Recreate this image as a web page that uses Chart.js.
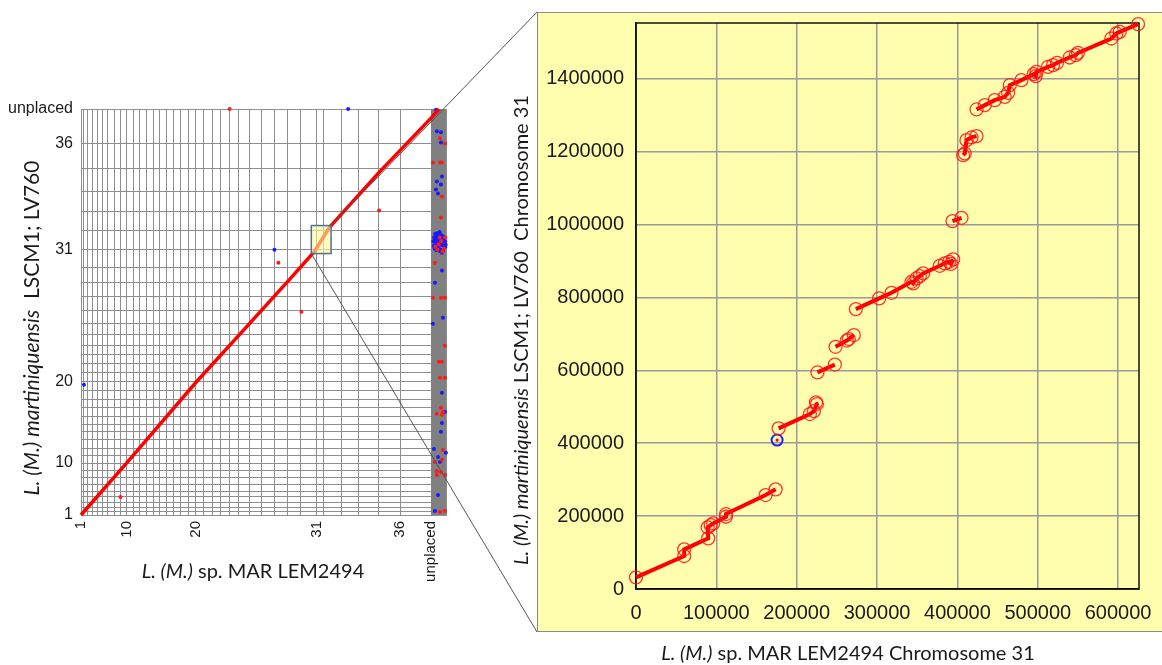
<!DOCTYPE html>
<html>
<head>
<meta charset="utf-8">
<script src="https://cdn.jsdelivr.net/npm/chart.js@4.4.1/dist/chart.umd.min.js"></script>
<style>
  html, body { margin: 0; padding: 0; background: #fff; }
  #page { position: relative; width: 1162px; height: 665px; overflow: hidden; font-family: Lato, "Liberation Sans", sans-serif; }
  #leftCanvas { position: absolute; left: 0; top: 0; }
  #panel { position: absolute; left: 537px; top: 12px; width: 640px; height: 620px; background: #fffdae; border: 1px solid #8a8a8a; box-sizing: border-box; }
  #rightCanvas { position: absolute; left: 537px; top: 12px; }
  .title { position: absolute; font-size: 20px; color: #1a1a1a; white-space: nowrap; transform: translate(-50%, -50%); }
  .title.rot { transform: translate(-50%, -50%) rotate(-90deg); }
  #links { position: absolute; left: 0; top: 0; pointer-events: none; }
</style>
</head>
<body>
<div id="page">
  <canvas id="leftCanvas" width="470" height="600"></canvas>
  <div id="panel"></div>
  <canvas id="rightCanvas" width="625" height="621"></canvas>
  <svg id="links" width="1162" height="665"></svg>

  <div class="title rot" style="left:30px; top:328px; font-size:21px;"><i>L. (M.) martiniquensis</i>&nbsp; LSCM1; LV760</div>
  <div class="title" style="left:253px; top:570px;"><i>L. (M.)</i> sp. MAR LEM2494</div>
  <div class="title rot" style="left:520px; top:330px;"><i>L. (M.) martiniquensis</i> LSCM1; LV760&nbsp; Chromosome 31</div>
  <div class="title" style="left:848px; top:652px;"><i>L. (M.)</i> sp. MAR LEM2494 Chromosome 31</div>
</div>

<script>
// ---------- Genome-wide dot plot (left) ----------
// Chromosome lengths (Mb) of the two assemblies, chromosomes 1..36
const xChrSizes = [0.27, 0.36, 0.38, 0.46, 0.46, 0.51, 0.59, 0.58, 0.56,
                   0.59, 0.55, 0.65, 0.62, 0.59, 0.60, 0.67, 0.65, 0.70, 0.66,
                   0.76, 0.79, 0.74, 0.79, 0.86, 0.93, 1.12, 1.16, 1.19, 1.24, 1.43,
                   0.63, 1.64, 1.55, 1.82, 2.00, 2.82];
const xUnplacedSize = 1.36;
const yChrSizes = [0.27, 0.36, 0.38, 0.47, 0.47, 0.52, 0.60, 0.59, 0.57, 0.62,
                   0.58, 0.68, 0.65, 0.62, 0.63, 0.71, 0.68, 0.74, 0.70, 0.74,
                   0.77, 0.72, 0.77, 0.84, 0.91, 1.09, 1.13, 1.16, 1.21, 1.40,
                   1.55, 1.60, 1.65, 1.80, 2.05, 2.83];
const labelledChromosomes = [1, 10, 20, 31, 36];
const unplacedLabel = 'unplaced';

// Syntenic diagonal (concatenated genome positions, Mb)
const diagonalX = [0, 4.17, 10.45, 15.36, 19.0, 21.27, 22.64, 27.18, 32.0, 32.64];
const diagonalY = [0, 4.24, 10.77, 15.58, 19.17, 21.45, 23.4, 27.9, 32.4, 33.06];

// Off-diagonal hits
const offRedX = [13.55, 18.0, 27.18, 20.1, 3.6];
const offRedY = [33.06, 20.55, 24.8, 16.56, 1.47];
const offBlueX = [24.36, 17.64, 0.27];
const offBlueY = [33.06, 21.6, 10.6];

// Hits against unplaced contigs
const unplacedBlue = [
  [32.36, 33.0], [32.45, 31.24], [32.82, 31.16], [32.82, 30.34], [32.91, 27.57], [32.45, 27.16],
  [32.82, 26.92], [32.36, 26.51], [32.55, 26.18], [32.91, 19.9], [32.27, 18.92], [33.0, 16.07],
  [32.09, 15.58], [32.91, 9.95], [33.18, 8.4], [32.91, 7.5], [32.82, 6.77], [32.18, 5.38],
  [33.27, 5.06], [32.55, 4.73], [32.73, 4.32], [32.55, 1.63], [32.27, 0.33],
  [32.12, 22.3], [32.2, 22.6], [32.3, 22.9], [32.4, 22.7], [32.5, 22.95], [32.6, 22.8],
  [32.7, 23.05], [32.8, 22.85], [32.9, 22.6], [33.0, 22.7], [33.1, 22.5], [33.2, 22.3],
  [32.15, 21.9], [32.3, 22.1], [32.45, 22.35], [32.55, 22.15], [32.65, 22.4], [32.75, 22.2],
  [32.85, 22.0], [32.95, 22.25], [33.05, 21.95], [33.2, 21.8], [32.25, 21.7], [32.4, 21.55],
  [32.6, 21.75], [32.8, 21.6], [33.0, 21.5], [32.9, 21.35], [32.5, 21.95], [32.7, 21.5],
  [33.25, 22.0], [32.35, 22.5]
];
const unplacedRed = [
  [32.73, 30.67], [33.18, 30.26], [32.09, 28.71], [32.73, 28.71], [32.91, 28.71], [32.91, 25.94],
  [32.82, 24.23], [32.27, 20.55], [32.09, 17.7], [32.82, 17.7], [33.18, 17.7], [33.18, 13.78],
  [32.64, 12.48], [32.91, 12.48], [32.73, 11.17], [33.18, 11.17], [32.82, 8.73], [32.45, 8.24],
  [32.91, 8.16], [33.0, 8.4], [33.0, 5.3], [32.91, 4.49], [32.27, 4.32], [32.45, 3.59],
  [32.82, 3.51], [33.18, 3.26], [32.45, 3.26], [32.73, 0.24], [33.18, 0.33],
  [32.6, 22.05], [32.85, 22.3], [32.5, 21.6], [33.1, 21.7], [32.3, 21.85], [32.95, 21.45],
  [33.2, 22.6], [32.7, 22.6]
];

// Region enlarged on the right (Mb)
const zoomBoxX = [21.0, 22.8];
const zoomBoxY = [21.29, 23.57];

// ---------- Chromosome 31 detail (right) ----------
// Syntenic blocks, [LEM2494 position, LSCM1 position] in bp
const block1 = [[0, 32000], [60000, 90500], [60000, 108900], [89900, 139000], [89200, 169000],
                [93000, 175000], [96100, 180000], [112000, 198300], [112000, 205700],
                [161300, 257800], [173800, 273500]];
const block2 = [[177500, 440800], [216400, 480000], [221400, 488000], [225100, 507500], [224000, 512000]];
const block3 = [[225800, 594200], [247500, 615800]];
const block4 = [[248300, 664600], [262400, 681700], [264900, 685800], [271100, 696800]];
const block5 = [[273600, 768000], [302600, 797400], [318000, 812700], [342900, 842900],
                [344900, 838500], [349100, 852200], [353200, 858600], [357300, 866000],
                [378100, 886800], [384300, 893400], [389700, 897800], [392000, 892000], [394700, 904300]];
const block6 = [[393900, 1009400], [405100, 1018500]];
const block7 = [[407100, 1190500], [409200, 1195100], [411300, 1231600], [417600, 1239000], [423800, 1242600]];
const block8 = [[423800, 1315800], [434100, 1327600], [446500, 1341300], [458900, 1350400],
                [463100, 1361400], [465200, 1382500], [479700, 1396200], [495000, 1412600],
                [497500, 1407200], [498400, 1419000], [512800, 1432700], [519000, 1437300],
                [524000, 1443700], [539800, 1458400], [547300, 1464800], [550100, 1471100],
                [591600, 1510500], [597800, 1524200], [602000, 1528700], [624800, 1549800]];
const invertedHit = [[175600, 408700]];
const chr31LengthX = 626000;
const chr31LengthY = 1553000;
const xStep = 100000;
const yStep = 200000;

// ---------- helpers ----------
function boundaries(sizes) {
  const out = [0];
  sizes.forEach(s => out.push(+(out[out.length - 1] + s).toFixed(4)));
  return out;
}
const xBounds = boundaries(xChrSizes.concat([xUnplacedSize]));   // 38 values
const yBounds = boundaries(yChrSizes);                          // 37 values (top = unplaced)
const xTotal = xBounds[xBounds.length - 1];
const yTotal = yBounds[yBounds.length - 1];
const unplacedStart = xBounds[xChrSizes.length];

function boundaryLabel(i, n) {
  if (i === n) return unplacedLabel;
  return labelledChromosomes.includes(i + 1) ? String(i + 1) : '';
}
const toXY = arr => arr.map(([x, y]) => ({ x, y }));
const zip = (xs, ys) => xs.map((x, i) => ({ x, y: ys[i] }));

Chart.defaults.font.family = '"Liberation Sans", Arial, sans-serif';
Chart.defaults.color = '#1a1a1a';

// Gray band for unplaced contigs + the enlarged-region box
const dotPlotDecor = {
  id: 'dotPlotDecor',
  beforeDatasetsDraw(chart) {
    const { ctx, chartArea, scales } = chart;
    const x0 = scales.x.getPixelForValue(unplacedStart);
    const x1 = scales.x.getPixelForValue(xTotal);
    ctx.save();
    ctx.fillStyle = '#808080';
    ctx.fillRect(x0, chartArea.top, x1 - x0, chartArea.bottom - chartArea.top);
    ctx.restore();
  },
  afterDatasetsDraw(chart) {
    const { ctx, scales } = chart;
    const l = scales.x.getPixelForValue(zoomBoxX[0]);
    const r = scales.x.getPixelForValue(zoomBoxX[1]);
    const t = scales.y.getPixelForValue(zoomBoxY[1]);
    const b = scales.y.getPixelForValue(zoomBoxY[0]);
    ctx.save();
    ctx.fillStyle = 'rgba(255, 250, 150, 0.6)';
    ctx.fillRect(l, t, r - l, b - t);
    ctx.strokeStyle = '#4f6e96';
    ctx.lineWidth = 1.5;
    ctx.strokeRect(l, t, r - l, b - t);
    ctx.restore();
  }
};

const dotStyle = (color) => ({
  type: 'scatter', pointRadius: 2, pointHoverRadius: 2,
  backgroundColor: color, borderColor: color, borderWidth: 0, clip: false
});

const leftChart = new Chart(document.getElementById('leftCanvas'), {
  data: {
    datasets: [
      { type: 'line', data: zip(diagonalX, diagonalY), borderColor: '#ff0000', borderWidth: 3.5,
        pointRadius: 0, tension: 0, clip: false },
      Object.assign({ data: zip(offRedX, offRedY) }, dotStyle('#ff1a1a')),
      Object.assign({ data: zip(offBlueX, offBlueY) }, dotStyle('#1a1aff')),
      Object.assign({ data: toXY(unplacedRed) }, dotStyle('#ff1a1a')),
      Object.assign({ data: toXY(unplacedBlue) }, dotStyle('#1a1aff'))
    ]
  },
  options: {
    responsive: false, animation: false,
    layout: { padding: { left: 0, top: 109, right: 22, bottom: 0 } },
    plugins: { legend: { display: false }, tooltip: { enabled: false } },
    scales: {
      x: {
        type: 'linear', min: 0, max: xTotal,
        afterBuildTicks: s => { s.ticks = xBounds.map(v => ({ value: v })); },
        afterFit: s => { s.height = 85; },
        grid: { color: '#8e8e8e', lineWidth: 1, drawTicks: false },
        border: { color: '#8e8e8e' },
        ticks: {
          autoSkip: false, minRotation: 90, maxRotation: 90, padding: 6,
          font: { size: 15 },
          callback: (v, i) => boundaryLabel(i, xChrSizes.length)
        }
      },
      y: {
        type: 'linear', min: 0, max: yTotal,
        afterBuildTicks: s => { s.ticks = yBounds.map(v => ({ value: v })); },
        afterFit: s => { s.width = 81; },
        grid: { color: '#8e8e8e', lineWidth: 1, drawTicks: false },
        border: { color: '#8e8e8e' },
        ticks: {
          autoSkip: false, padding: 8,
          font: { size: 16 },
          callback: (v, i) => boundaryLabel(i, yChrSizes.length)
        }
      }
    }
  },
  plugins: [dotPlotDecor]
});

// ---------- right chart ----------
const plotFrame = {
  id: 'plotFrame',
  beforeDatasetsDraw(chart) {
    const { ctx, chartArea: a } = chart;
    ctx.save();
    ctx.strokeStyle = '#111';
    ctx.lineWidth = 1.5;
    ctx.strokeRect(a.left, a.top, a.right - a.left, a.bottom - a.top);
    ctx.restore();
  }
};

const blockStyle = {
  type: 'scatter', showLine: true, borderColor: '#ff0000', borderWidth: 4,
  pointRadius: 6.5, pointHoverRadius: 6.5, pointStyle: 'circle',
  pointBorderColor: 'rgba(255, 20, 20, 0.85)', pointBorderWidth: 1.3,
  pointBackgroundColor: 'rgba(0,0,0,0)', clip: false
};
const blocks = [block1, block2, block3, block4, block5, block6, block7, block8];

// Round-number ticks from 0 up to the axis end
const stepTicks = step => s => {
  const out = [];
  for (let v = 0; v <= s.max; v += step) out.push({ value: v });
  s.ticks = out;
};

const rightChart = new Chart(document.getElementById('rightCanvas'), {
  type: 'scatter',
  data: {
    datasets: [
      ...blocks.map(b => Object.assign({ data: toXY(b) }, blockStyle)),
      { data: toXY(invertedHit), pointRadius: 5.5, pointHoverRadius: 5.5,
        pointBorderColor: '#2222ee', pointBorderWidth: 2, pointBackgroundColor: 'rgba(0,0,0,0)', clip: false },
      { data: toXY(invertedHit), pointRadius: 1.6, pointHoverRadius: 1.6,
        pointBorderWidth: 0, pointBackgroundColor: '#ff0000', clip: false }
    ]
  },
  options: {
    responsive: false, animation: false,
    layout: { padding: { left: 0, top: 11, right: 23, bottom: 0 } },
    plugins: { legend: { display: false }, tooltip: { enabled: false } },
    scales: {
      x: {
        type: 'linear', min: 0, max: chr31LengthX,
        afterBuildTicks: stepTicks(xStep),
        afterFit: s => { s.height = 44; s.paddingLeft = 0; s.paddingRight = 0; },
        grid: { color: '#9a9a9a', lineWidth: 1.5, drawTicks: false },
        border: { color: '#111', width: 1.5 },
        ticks: { autoSkip: false, maxRotation: 0, padding: 12, font: { size: 20 }, callback: v => String(v) }
      },
      y: {
        type: 'linear', min: 0, max: chr31LengthY,
        afterBuildTicks: stepTicks(yStep),
        afterFit: s => { s.width = 99; s.paddingTop = 0; s.paddingBottom = 0; },
        grid: { color: '#9a9a9a', lineWidth: 1.5, drawTicks: false },
        border: { color: '#111', width: 1.5 },
        ticks: { autoSkip: false, padding: 12, font: { size: 20 }, callback: v => String(v) }
      }
    }
  },
  plugins: [plotFrame]
});

// ---------- connector lines from the box to the detail panel ----------
(function drawLinks() {
  const sx = leftChart.scales.x, sy = leftChart.scales.y;
  const panel = document.getElementById('panel');
  const pl = panel.offsetLeft, pt = panel.offsetTop, pb = pt + panel.offsetHeight;
  const topStart = [sx.getPixelForValue(zoomBoxX[1]), sy.getPixelForValue(zoomBoxY[1])];
  const botStart = [sx.getPixelForValue(zoomBoxX[0]), sy.getPixelForValue(zoomBoxY[0])];
  const svg = document.getElementById('links');
  const ns = 'http://www.w3.org/2000/svg';
  [[topStart, [pl, pt]], [botStart, [pl, pb]]].forEach(([a, b]) => {
    const ln = document.createElementNS(ns, 'line');
    ln.setAttribute('x1', a[0]); ln.setAttribute('y1', a[1]);
    ln.setAttribute('x2', b[0]); ln.setAttribute('y2', b[1]);
    ln.setAttribute('stroke', '#555');
    ln.setAttribute('stroke-width', '1');
    svg.appendChild(ln);
  });
})();
</script>
</body>
</html>
